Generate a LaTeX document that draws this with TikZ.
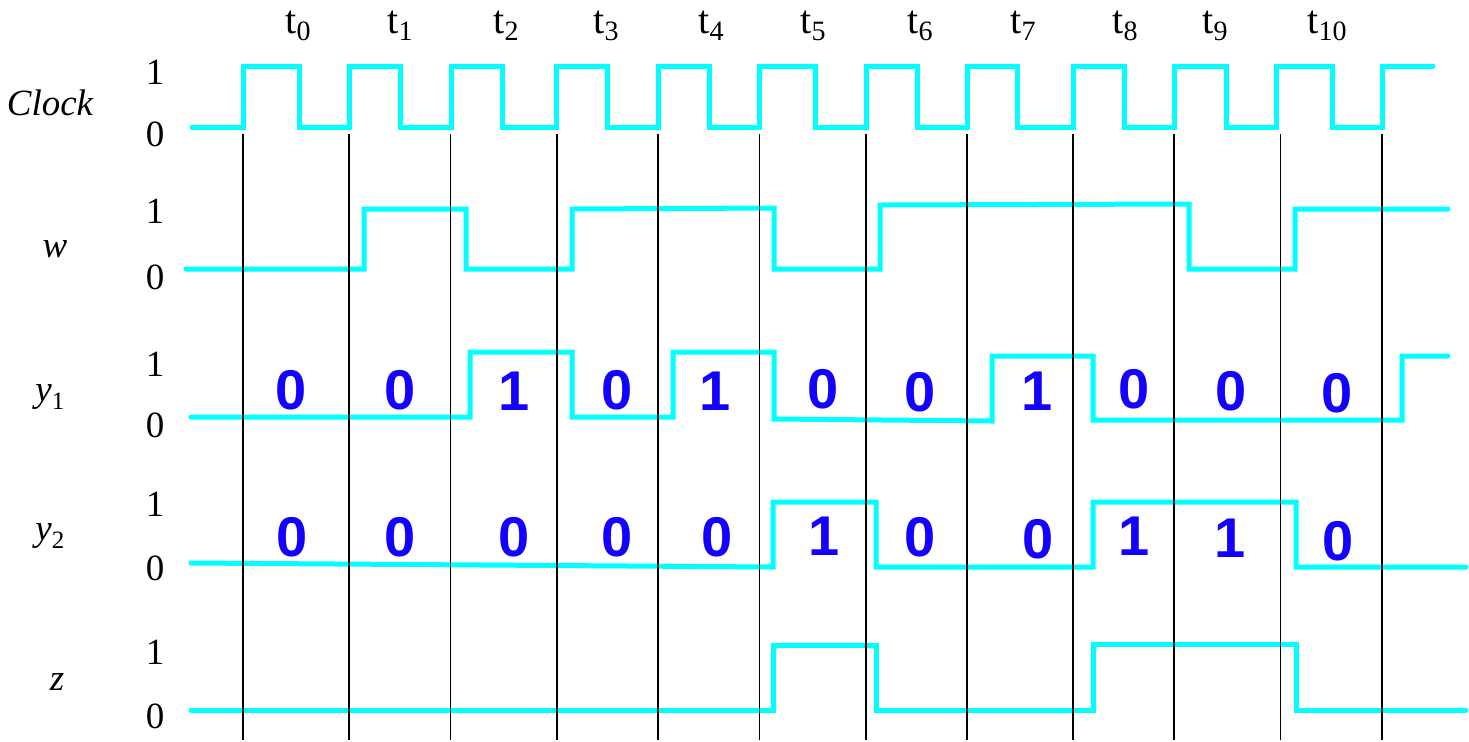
\documentclass[tikz,border=0pt]{standalone}
\usepackage{fontspec}
\setmainfont{Liberation Serif}
\newfontfamily\digitfont{Liberation Sans}
\definecolor{sig}{RGB}{0,255,255}
\definecolor{bitblue}{RGB}{20,0,255}
\begin{document}
\begin{tikzpicture}[x=0.5pt,y=-0.5pt,
  wave/.style={draw=sig, line width=2.5pt, line cap=round, line join=miter},
  gridline/.style={draw=black, line width=0.7pt},
  lvl/.style={inner sep=0pt, font=\fontsize{18.5}{18.5}\selectfont},
  sname/.style={inner sep=0pt, anchor=base, font=\fontsize{18.5}{18.5}\selectfont\itshape},
  tlab/.style={inner sep=0pt, anchor=base west, font=\fontsize{20}{20}\selectfont},
  bit/.style={inner sep=0pt, text=bitblue, font=\fontsize{28}{28}\selectfont\digitfont\bfseries}]
\useasboundingbox (0,0) rectangle (1469,741);

% time labels
\newcommand{\tsub}[1]{t\raisebox{-3.5pt}{\fontsize{14}{14}\selectfont #1}}
\node[tlab] (t0) at (285,33) {\tsub{0}};
\node[tlab] (t1) at (387,33) {\tsub{1}};
\node[tlab] (t2) at (493,33) {\tsub{2}};
\node[tlab] (t3) at (593,33) {\tsub{3}};
\node[tlab] (t4) at (698,33) {\tsub{4}};
\node[tlab] (t5) at (800,33) {\tsub{5}};
\node[tlab] (t6) at (907,33) {\tsub{6}};
\node[tlab] (t7) at (1010,33) {\tsub{7}};
\node[tlab] (t8) at (1112,33) {\tsub{8}};
\node[tlab] (t9) at (1202,33) {\tsub{9}};
\node[tlab] (t10) at (1307,33) {\tsub{10}};

% signal names
\node[sname] (nclk) at (50,115) {Clock};
\node[sname] (nw) at (55,257) {w};
\node[sname, anchor=base west] (ny1) at (35,401) {y\raisebox{-4.3pt}{\fontsize{12.5}{12.5}\selectfont\upshape 1}};
\node[sname, anchor=base west] (ny2) at (35,540) {y\raisebox{-4.3pt}{\fontsize{12.5}{12.5}\selectfont\upshape 2}};
\node[sname] (nz) at (57,690) {z};

% level labels
\node[lvl] (c1) at (155,72.5) {1};
\node[lvl] (c0) at (155,134.5) {0};
\node[lvl] (w1) at (155,211.5) {1};
\node[lvl] (w0) at (155,277.5) {0};
\node[lvl] (a1) at (155,364) {1};
\node[lvl] (a0) at (155,425) {0};
\node[lvl] (b1) at (155,504) {1};
\node[lvl] (b0) at (155,568) {0};
\node[lvl] (z1) at (155,652) {1};
\node[lvl] (z0) at (155,716) {0};

% waveforms
\draw[wave] (192,127) -- (243,127) -- (243,66) -- (299,66) -- (299,127) -- (349,127) -- (349,66) -- (400,66) -- (400,127)
  -- (451,127) -- (451,66) -- (502,66) -- (502,127) -- (556,127) -- (556,66) -- (607,66) -- (607,127)
  -- (658,127) -- (658,66) -- (709,66) -- (709,127) -- (759,127) -- (759,66) -- (815,66) -- (815,127)
  -- (866,127) -- (866,66) -- (917,66) -- (917,127) -- (967,127) -- (967,66) -- (1017,66) -- (1017,127)
  -- (1073,127) -- (1073,66) -- (1124,66) -- (1124,127) -- (1174,127) -- (1174,66) -- (1226,66) -- (1226,127)
  -- (1276,127) -- (1276,66) -- (1332,66) -- (1332,127) -- (1382,127) -- (1382,66) -- (1433,66);

\draw[wave] (186,269) -- (364,269) -- (364,209) -- (466,209) -- (466,269) -- (572,269) -- (572,209) -- (774,208)
  -- (774,269) -- (880,269) -- (880,205) -- (1189,204) -- (1189,269) -- (1295,269) -- (1295,209) -- (1448,209);

\draw[wave] (191,417) -- (470,417) -- (470,352) -- (572,352) -- (572,417) -- (673,417) -- (673,352) -- (774,352)
  -- (774,419) -- (992,421) -- (992,356) -- (1093,356) -- (1093,420) -- (1402,420) -- (1402,356) -- (1448,356);

\draw[wave] (191,563) -- (773,567) -- (773,502) -- (876,502) -- (876,567) -- (1093,567) -- (1093,502) -- (1296,502)
  -- (1296,567) -- (1466,567);

\draw[wave] (191,710) -- (773,710) -- (773,645) -- (876,645) -- (876,710) -- (1093,710) -- (1093,644) -- (1296,644)
  -- (1296,710) -- (1466,710);

% clock edge lines
\foreach \x in {243,349,450.5,557,658,759.5,866,967,1073,1174,1280.5,1382}
  \draw[gridline] (\x,134) -- (\x,740);

% y1 bits
\node[bit] (p0) at (291,390) {0};
\node[bit] (p1) at (400,390) {0};
\node[bit] (p2) at (514,391) {1};
\node[bit] (p3) at (617,390) {0};
\node[bit] (p4) at (715,391) {1};
\node[bit] (p5) at (823,389) {0};
\node[bit] (p6) at (920,392) {0};
\node[bit] (p7) at (1037,391) {1};
\node[bit] (p8) at (1134,389) {0};
\node[bit] (p9) at (1231,391) {0};
\node[bit] (p10) at (1337,393) {0};

% y2 bits
\node[bit] (q0) at (292,537) {0};
\node[bit] (q1) at (400,537) {0};
\node[bit] (q2) at (514,537) {0};
\node[bit] (q3) at (617,537) {0};
\node[bit] (q4) at (717,537) {0};
\node[bit] (q5) at (824,536) {1};
\node[bit] (q6) at (920,537) {0};
\node[bit] (q7) at (1038,539) {0};
\node[bit] (q8) at (1134,536) {1};
\node[bit] (q9) at (1230,538) {1};
\node[bit] (q10) at (1338,541) {0};
\end{tikzpicture}
\end{document}
